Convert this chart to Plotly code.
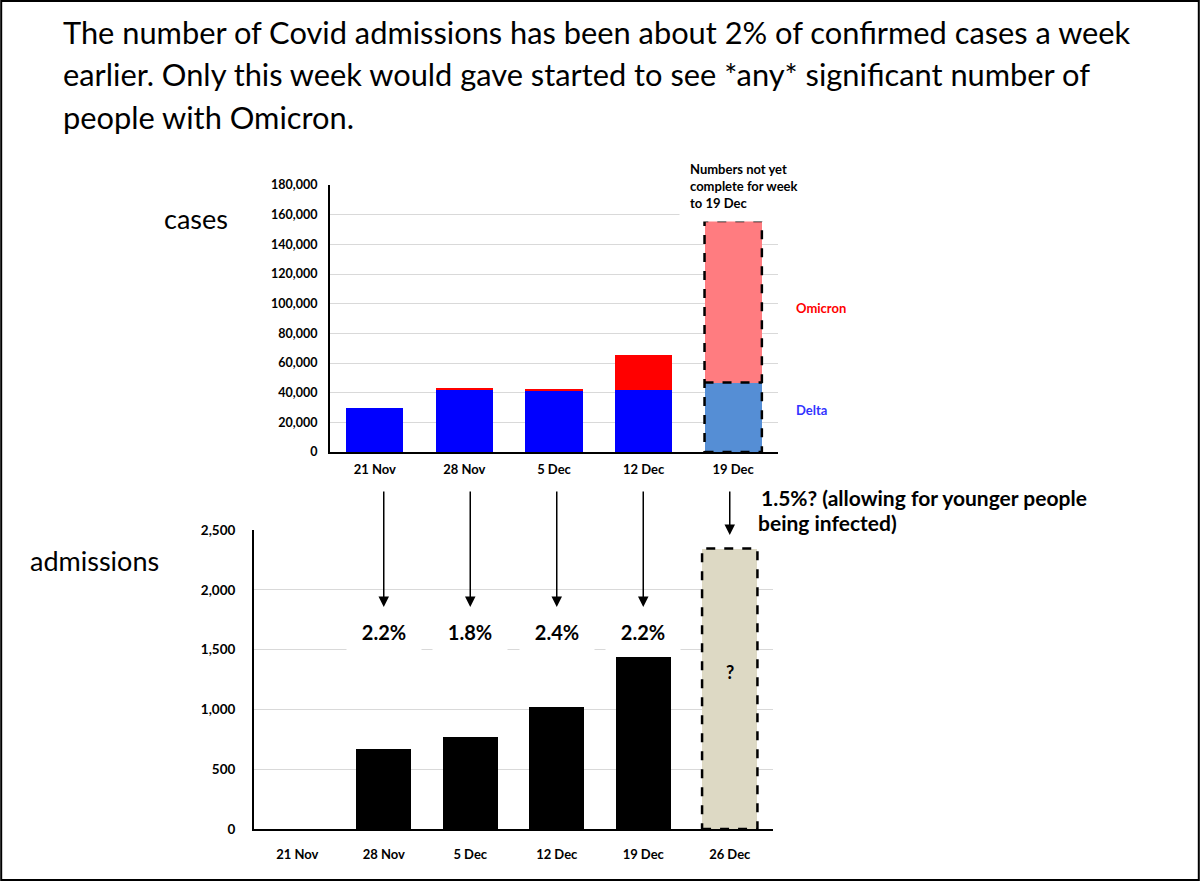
import plotly.graph_objects as go

# ---------------- data ----------------
case_weeks = ["21 Nov", "28 Nov", "5 Dec", "12 Dec", "19 Dec"]
delta_cases = [29600, 42400, 41200, 41600, 46800]
omicron_cases = [0, 600, 1500, 24000, 109000]
case_ticks = [0, 20000, 40000, 60000, 80000, 100000, 120000, 140000, 160000, 180000]

adm_weeks = ["21 Nov", "28 Nov", "5 Dec", "12 Dec", "19 Dec", "26 Dec"]
admissions = [None, 665, 768, 1018, 1442, None]
projected = [None, None, None, None, None, 2345]
adm_ticks = [0, 500, 1000, 1500, 2000, 2500]

pct_weeks = ["28 Nov", "5 Dec", "12 Dec", "19 Dec"]
pct_labels = ["2.2%", "1.8%", "2.4%", "2.2%"]

title_lines = [
    "The number of Covid admissions has been about 2% of confirmed cases a week",
    "earlier. Only this week would gave started to see *any* significant number of",
    "people with Omicron.",
]

W, H = 1200, 881
BAR_W = 0.64
FONT = "Lato"


def fx(px):
    return px / W


def fy(py):
    return 1 - py / H


delta_colors = ["#0000FF"] * 4 + ["#558ED5"]
omicron_colors = ["#FF0000"] * 4 + ["#FF7C80"]

fig = go.Figure()
fig.add_trace(go.Bar(x=case_weeks, y=delta_cases, marker=dict(color=delta_colors, line=dict(width=0)),
                     width=BAR_W, xaxis="x", yaxis="y", showlegend=False))
fig.add_trace(go.Bar(x=case_weeks, y=omicron_cases, marker=dict(color=omicron_colors, line=dict(width=0)),
                     width=BAR_W, xaxis="x", yaxis="y", showlegend=False))
fig.add_trace(go.Bar(x=adm_weeks, y=admissions, marker=dict(color="#000000", line=dict(width=0)),
                     width=BAR_W, xaxis="x2", yaxis="y2", showlegend=False))
fig.add_trace(go.Bar(x=adm_weeks, y=projected, marker=dict(color="#DDD9C4", line=dict(width=0)),
                     width=BAR_W, xaxis="x2", yaxis="y2", showlegend=False))


def tf(size):
    return dict(family=FONT, size=size, color="#000000", weight="bold")


grid = "#D9D9D9"

shapes = []
# dashed outline around incomplete week of cases
i19 = case_weeks.index("19 Dec")
tot19 = delta_cases[i19] + omicron_cases[i19]
dash = dict(color="#000000", width=2.5, dash="dash")
shapes.append(dict(type="rect", xref="x", yref="y", x0=i19 - BAR_W / 2, x1=i19 + BAR_W / 2,
                   y0=0, y1=tot19, line=dash, layer="above"))
shapes.append(dict(type="line", xref="x", yref="y", x0=i19 - BAR_W / 2, x1=i19 + BAR_W / 2,
                   y0=delta_cases[i19], y1=delta_cases[i19], line=dash, layer="above"))
# dashed outline around projected admissions
i26 = adm_weeks.index("26 Dec")
shapes.append(dict(type="rect", xref="x2", yref="y2", x0=i26 - BAR_W / 2, x1=i26 + BAR_W / 2,
                   y0=0, y1=projected[i26], line=dash, layer="above"))
# frame around whole picture
shapes.append(dict(type="rect", xref="paper", yref="paper", x0=0.001, x1=0.999, y0=0.001, y1=0.999,
                   line=dict(color="#000000", width=2)))


def label(text, px, py, size, xanchor="center", yanchor="middle", color="#000000", bold=False, **kw):
    f = dict(family=FONT, size=size, color=color)
    if bold:
        f["weight"] = "bold"
    d = dict(text=text, xref="paper", yref="paper", x=fx(px), y=fy(py), xanchor=xanchor,
             yanchor=yanchor, showarrow=False, font=f)
    d.update(kw)
    return d


ann = []
for k, line in enumerate(title_lines):
    ann.append(label(line, 61, 32 + 43 * k, 30.8, xanchor="left"))
ann.append(label("cases", 196, 218, 27))
ann.append(label("admissions", 94, 560, 27))
ann.append(label("Numbers not yet<br>complete for week<br>to 19 Dec", 679, 186, 13, xanchor="left",
                 bold=True, align="left", bgcolor="#FFFFFF", borderpad=10))
ann.append(label("Omicron", 794, 308, 13, xanchor="left", color="#FF0000", bold=True))
ann.append(label("Delta", 794, 410, 13, xanchor="left", color="#3333FF", bold=True))
# arrows from cases to admissions
for wk in pct_weeks:
    ann.append(dict(text="", xref="x2", yref="paper", x=wk, y=fy(607), ax=0, ay=-117,
                    showarrow=True, arrowhead=2, arrowsize=1.4, arrowwidth=1.5, arrowcolor="#000000"))
ann.append(dict(text="", xref="x2", yref="paper", x="26 Dec", y=fy(535), ax=0, ay=-45,
                showarrow=True, arrowhead=2, arrowsize=1.4, arrowwidth=1.5, arrowcolor="#000000"))
for wk, lab in zip(pct_weeks, pct_labels):
    ann.append(dict(text=lab, xref="x2", yref="paper", x=wk, y=fy(632), xanchor="center",
                    yanchor="middle", showarrow=False, width=72, height=40, bgcolor="#FFFFFF",
                    font=tf(20)))
ann.append(dict(text="?", xref="x2", yref="paper", x="26 Dec", y=fy(672), xanchor="center",
                yanchor="middle", showarrow=False, font=tf(18)))
ann.append(label("1.5%? (allowing for younger people", 756, 497, 21, xanchor="left", bold=True,
                 bgcolor="#FFFFFF", borderpad=4))
ann.append(label("being infected)", 756, 522, 21, xanchor="left", bold=True))

fig.update_layout(
    width=W, height=H,
    margin=dict(l=0, r=0, t=0, b=0, autoexpand=False),
    paper_bgcolor="#FFFFFF", plot_bgcolor="#FFFFFF",
    barmode="stack",
    showlegend=False,
    font=dict(family=FONT, color="#000000"),
    xaxis=dict(domain=[fx(330), fx(778)], anchor="y", type="category", categoryorder="array",
               categoryarray=case_weeks, showline=True, linecolor="#000000", linewidth=2,
               showgrid=False, ticks="", tickfont=tf(13), ticklabelstandoff=4),
    yaxis=dict(domain=[fy(452), fy(185)], anchor="x", range=[0, 180000], tickvals=case_ticks,
               tickformat=",", showline=True, linecolor="#000000", linewidth=2,
               showgrid=True, gridcolor=grid, gridwidth=1, zeroline=False, ticks="",
               tickfont=tf(12.5), ticklabelstandoff=8),
    xaxis2=dict(domain=[fx(254), fx(773)], anchor="y2", type="category", categoryorder="array",
                categoryarray=adm_weeks, showline=True, linecolor="#000000", linewidth=2,
                showgrid=False, ticks="", tickfont=tf(13), ticklabelstandoff=12),
    yaxis2=dict(domain=[fy(829), fy(530)], anchor="x2", range=[0, 2500], tickvals=adm_ticks,
                tickformat=",", showline=True, linecolor="#000000", linewidth=2,
                showgrid=True, gridcolor=grid, gridwidth=1, zeroline=False, ticks="",
                tickfont=tf(13.5), ticklabelstandoff=14),
    shapes=shapes,
    annotations=ann,
)

post = ("document.documentElement.style.margin='0';document.body.style.margin='0';"
        "document.body.style.padding='0';document.body.style.overflow='hidden';"
        "var gd=document.getElementById('{plot_id}');gd.style.position='absolute';"
        "gd.style.left='0px';gd.style.top='0px';")

fig.write_html("out.html", config={"displayModeBar": False}, post_script=post)
